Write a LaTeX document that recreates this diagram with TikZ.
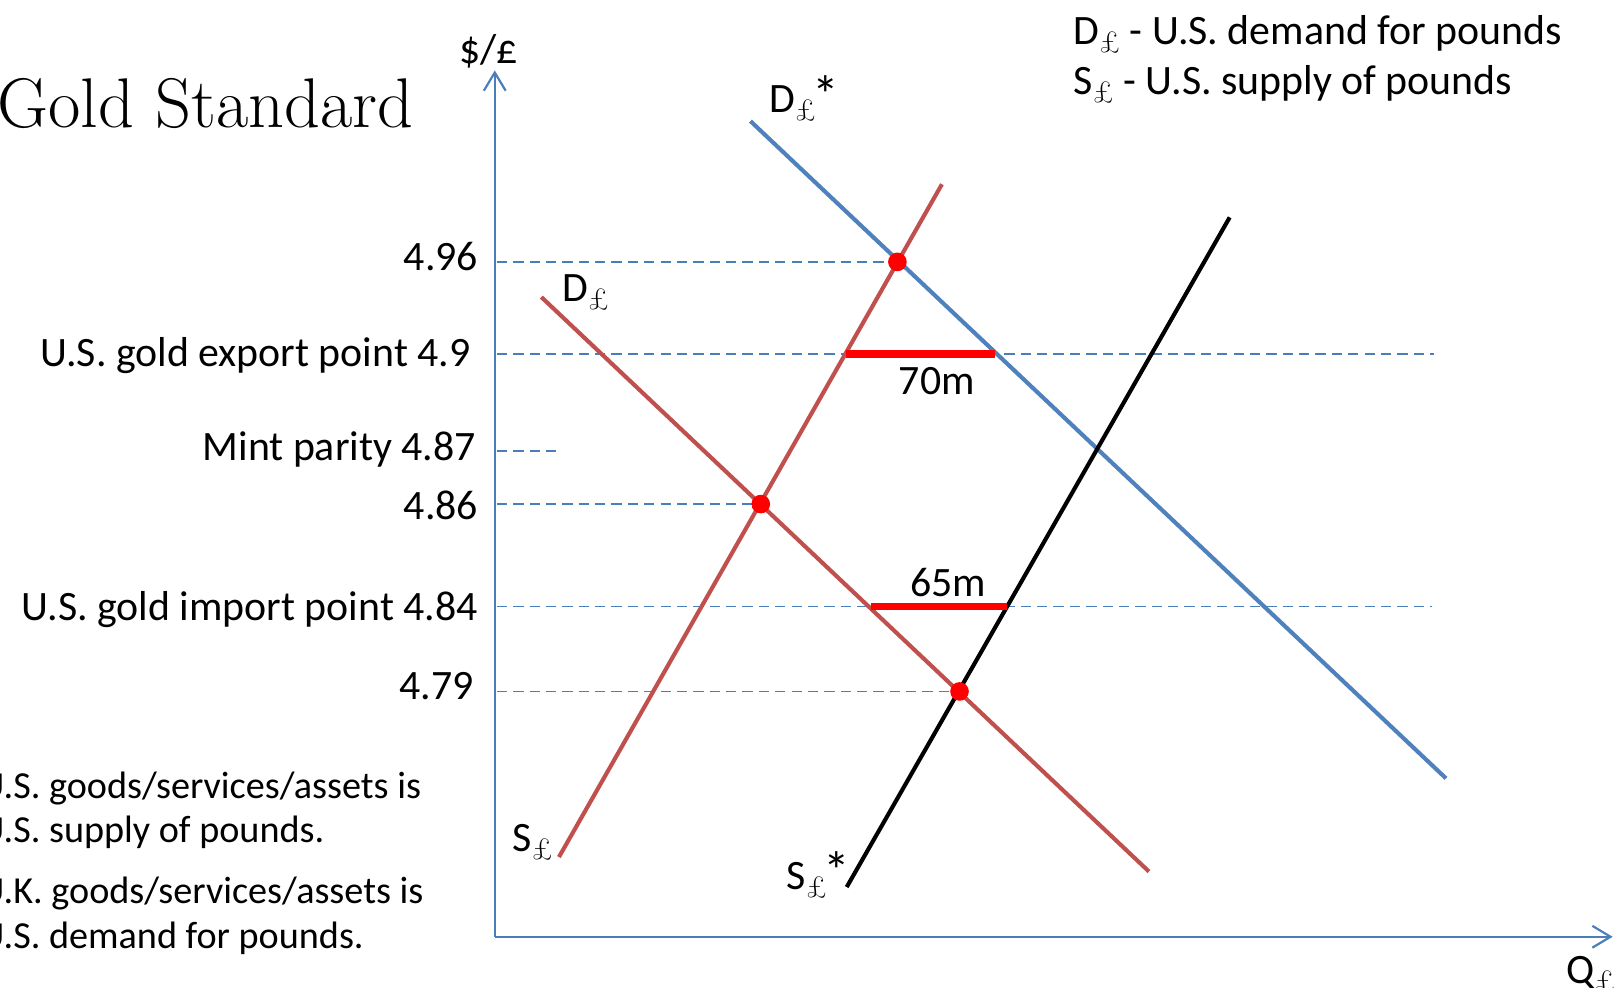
\documentclass[tikz,border=0pt]{standalone}
\usepackage{fontspec}
\setsansfont{Carlito}
\usetikzlibrary{arrows.meta}
\definecolor{axblue}{HTML}{4A7EBB}
\definecolor{dblue}{HTML}{4F81BD}
\definecolor{sred}{HTML}{C0504D}
\newcommand{\lbs}{\raisebox{-6.5pt}{\rmfamily\fontsize{25}{25}\selectfont £}}
\newcommand{\bigstar}{\kern-3pt\raisebox{-0.5pt}{\fontsize{44}{44}\selectfont *}}
\begin{document}
\begin{tikzpicture}[x=0.03cm,y=-0.03cm,
  font=\sffamily\fontsize{34.5}{41}\selectfont,
  lbl/.style={inner sep=0pt},
  axisline/.style={axblue,line width=1.8pt,-{Straight Barb[length=15pt,width=18pt,line width=1.8pt]}},
  guide/.style={axblue,line width=1.5pt,dash pattern=on 8.5pt off 5pt},
  bluecurve/.style={dblue,line width=3.4pt},
  redcurve/.style={sred,line width=3.4pt},
  blackcurve/.style={black,line width=3.4pt},
  gap/.style={red,line width=5.8pt},
  dot/.style={fill=red}
]
\useasboundingbox (0,0) rectangle (1568,954);

% axes
\coordinate (O) at (478,905);
\coordinate (Ytip) at (478,68);
\coordinate (Xtip) at (1558,905);
\draw[axisline] (O) -- (Ytip);
\draw[axisline] (O) -- (Xtip);
\node[lbl,anchor=base] (ylab) at (472,61) {\$/£};
\node[lbl,anchor=base west] (xlab) at (1513,950) {Q\lbs};

% title
\node[lbl,anchor=base west] (title) at (-3,123) {\rmfamily\fontsize{58}{68}\selectfont Gold Standard};

% legend
\node[lbl,anchor=base west] (leg1) at (1037,43) {D\lbs{} - U.S. demand for pounds};
\node[lbl,anchor=base west] (leg2) at (1037,91) {S\lbs{} - U.S. supply of pounds};

% bottom-left notes
\begin{scope}[font=\sffamily\fontsize{31.5}{37}\selectfont]
\node[lbl,anchor=base east] (n1) at (407,771) {U.S. goods/services/assets is};
\node[lbl,anchor=base west] (n2) at (n1.base west) [yshift=-43*0.03cm] {U.S. supply of pounds.};
\node[lbl,anchor=base west] (n3) at (n1.base west) [yshift=-102*0.03cm] {U.K. goods/services/assets is};
\node[lbl,anchor=base west] (n4) at (n1.base west) [yshift=-145*0.03cm] {U.S. demand for pounds.};
\end{scope}

% level coordinates on the axis
\coordinate (a496) at (480,253);
\coordinate (a490) at (480,342);
\coordinate (a487) at (480,436);
\coordinate (a486) at (480,487);
\coordinate (a484) at (480,586);
\coordinate (a479) at (480,668);

% intersection points
\coordinate (p496) at (867,253);
\coordinate (p486) at (735,487);
\coordinate (p479) at (927,668);
\coordinate (e490) at (1385,342);
\coordinate (e487) at (540,436);
\coordinate (e484) at (1383,586);
\coordinate (g70a) at (817,342);
\coordinate (g70b) at (961,342);
\coordinate (g65a) at (841,586);
\coordinate (g65b) at (973,586);

% guides
\draw[guide] (a496) -- (p496);
\draw[guide] (a490) -- (e490);
\draw[guide] (a487) -- (e487);
\draw[guide] (a486) -- (p486);
\draw[guide] (a484) -- (e484);
\draw[guide] (a479) -- (p479);

% level labels
\node[lbl,anchor=base east] (l496) at (462,261) {4.96};
\node[lbl,anchor=base east] (l490) at (455,354) {U.S. gold export point 4.9};
\node[lbl,anchor=base east] (l487) at (460,445) {Mint parity 4.87};
\node[lbl,anchor=base east] (l486) at (462,502) {4.86};
\node[lbl,anchor=base east] (l484) at (462,599) {U.S. gold import point 4.84};
\node[lbl,anchor=base east] (l479) at (458,676) {4.79};

% curves
\coordinate (Dsa) at (725,117);  \coordinate (Dsb) at (1397,752);
\coordinate (Sa) at (540,828);   \coordinate (Sb) at (910,178);
\coordinate (Da) at (523,287);   \coordinate (Db) at (1110,842);
\coordinate (Ssa) at (818,857);  \coordinate (Ssb) at (1188,210);
\draw[bluecurve] (Dsa) -- (Dsb);
\draw[redcurve] (Sa) -- (Sb);
\draw[redcurve] (Da) -- (Db);
\draw[blackcurve] (Ssa) -- (Ssb);

% curve labels
\node[lbl,anchor=base west] (lDs) at (743,109) {D\lbs\bigstar};
\node[lbl,anchor=base west] (lD) at (543,291) {D\lbs};
\node[lbl,anchor=base west] (lS) at (495,823) {S\lbs};
\node[lbl,anchor=base west] (lSs) at (760,859) {S\lbs\bigstar};

% gaps
\draw[gap] (g70a) -- (g70b);
\draw[gap] (g65a) -- (g65b);
\node[lbl,anchor=base] (t70) at (905,381) {70m};
\node[lbl,anchor=base] (t65) at (916,576) {65m};

% dots
\fill[dot] (p496) circle[radius=0.27cm];
\fill[dot] (p486) circle[radius=0.27cm];
\fill[dot] (p479) circle[radius=0.27cm];
\end{tikzpicture}
\end{document}
